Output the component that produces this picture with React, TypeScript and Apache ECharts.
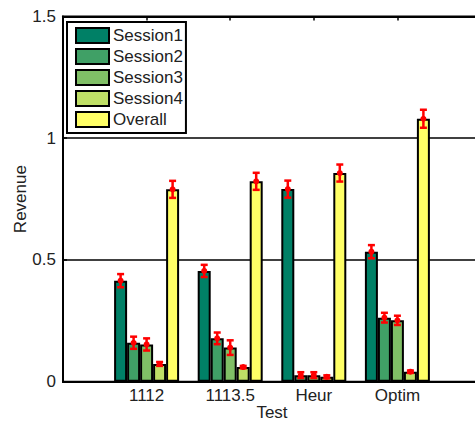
import React, { useEffect, useRef } from "react";
import * as echarts from "echarts";

const categories = ["", "1112", "1113.5", "Heur", "Optim", ""];
const seriesNames = ["Session1", "Session2", "Session3", "Session4", "Overall"];
const session1 = [null, 0.415, 0.455, 0.791, 0.534, null];
const session2 = [null, 0.16, 0.178, 0.027, 0.263, null];
const session3 = [null, 0.153, 0.14, 0.027, 0.252, null];
const session4 = [null, 0.073, 0.06, 0.02, 0.041, null];
const overall = [null, 0.79, 0.823, 0.857, 1.08, null];
const err1 = [null, 0.027, 0.025, 0.035, 0.027, null];
const err2 = [null, 0.025, 0.024, 0.012, 0.02, null];
const err3 = [null, 0.025, 0.03, 0.012, 0.019, null];
const err4 = [null, 0.008, 0.005, 0.006, 0.005, null];
const errO = [null, 0.035, 0.035, 0.035, 0.037, null];
const yTicks = [0, 0.5, 1, 1.5];
const colors = ["#008066", "#40a066", "#80bf66", "#bfdf66", "#ffff66"];

const BAR_W = 13;
const FONT = "Liberation Sans";
const TEXT = "#222";

export default function App() {
  const ref = useRef<HTMLDivElement>(null);
  useEffect(() => {
    if (!ref.current) return;
    const chart = echarts.init(ref.current, undefined, { renderer: "svg" });
    const values = [session1, session2, session3, session4, overall];
    const errs = [err1, err2, err3, err4, errO];
    const errData: any[] = [];
    values.forEach((arr, s) => {
      arr.forEach((v, i) => {
        if (v !== null && errs[s][i] !== null) errData.push([i, s, v, errs[s][i]]);
      });
    });
    const showTick = (idx: number) => idx > 0 && idx < categories.length - 1;
    const option: any = {
      animation: false,
      textStyle: { fontFamily: FONT },
      grid: {
        left: 63,
        right: -6,
        top: 16.5,
        bottom: 39.3,
        containLabel: false,
        outerBoundsMode: "none",
        show: true,
        borderColor: "#000",
        borderWidth: 2,
        backgroundColor: "transparent",
      },
      legend: {
        data: seriesNames,
        orient: "vertical",
        left: 67,
        top: 22,
        padding: [5, 3, 5, 8],
        itemGap: 4,
        itemWidth: 33,
        itemHeight: 15,
        icon: "rect",
        backgroundColor: "#fff",
        borderColor: "#000",
        borderWidth: 2,
        borderRadius: 0,
        itemStyle: { borderColor: "#000", borderWidth: 2 },
        textStyle: { fontSize: 17, lineHeight: 16, color: TEXT, fontFamily: FONT, padding: [0, 0, 0, -1] },
      },
      xAxis: [
        {
          type: "category",
          data: categories,
          boundaryGap: false,
          name: "Test",
          nameLocation: "middle",
          nameGap: 22,
          nameMoveOverlap: false,
          nameTextStyle: { fontSize: 17, color: TEXT, fontFamily: FONT },
          axisLine: { lineStyle: { color: "#000", width: 2 } },
          axisTick: { inside: true, length: 4, interval: (i: number) => showTick(i), lineStyle: { color: "#000", width: 1.5 } },
          axisLabel: { fontSize: 17, color: TEXT, fontFamily: FONT, margin: 5, interval: 0 },
          splitLine: { show: false },
        },
        {
          type: "category",
          data: categories,
          boundaryGap: false,
          position: "top",
          axisLine: { lineStyle: { color: "#000", width: 2 } },
          axisTick: { inside: true, length: 4, interval: (i: number) => showTick(i), lineStyle: { color: "#000", width: 1.5 } },
          axisLabel: { show: false },
          splitLine: { show: false },
        },
      ],
      yAxis: {
        type: "value",
        min: 0,
        max: 1.5,
        interval: 0.5,
        name: "Revenue",
        nameLocation: "middle",
        nameGap: 34,
        nameMoveOverlap: false,
        nameTextStyle: { fontSize: 17, color: TEXT, fontFamily: FONT },
        axisLine: { show: true, lineStyle: { color: "#000", width: 2 } },
        axisTick: { show: true, inside: true, length: 4, lineStyle: { color: "#000", width: 1.5 } },
        axisLabel: {
          fontSize: 17,
          color: TEXT,
          fontFamily: FONT,
          margin: 7,
          formatter: (v: number) => (yTicks.includes(v) ? String(v) : ""),
        },
        splitLine: { show: true, lineStyle: { color: "#000", width: 1.5 } },
      },
      series: [
        ...values.map((arr, s) => ({
          type: "bar",
          name: seriesNames[s],
          data: arr,
          barWidth: BAR_W,
          barGap: "0%",
          itemStyle: { color: colors[s], borderColor: "#000", borderWidth: 2 },
          emphasis: { disabled: true },
        })),
        {
          type: "custom",
          name: "err",
          data: errData,
          encode: { x: 0, y: 2 },
          z: 10,
          renderItem: (params: any, api: any) => {
            const i = api.value(0);
            const s = api.value(1);
            const v = api.value(2);
            const e = api.value(3);
            const off = (s - 2) * BAR_W;
            const c = api.coord([i, v]);
            const hi = api.coord([i, v + e]);
            const lo = api.coord([i, v - e]);
            const x = c[0] + off;
            const cap = 3.5;
            const st = { stroke: "#ff0000", lineWidth: 2.5 };
            return {
              type: "group",
              children: [
                { type: "line", shape: { x1: x, y1: hi[1], x2: x, y2: lo[1] }, style: st },
                { type: "line", shape: { x1: x - cap, y1: hi[1], x2: x + cap, y2: hi[1] }, style: st },
                { type: "line", shape: { x1: x - cap, y1: lo[1], x2: x + cap, y2: lo[1] }, style: st },
                { type: "circle", shape: { cx: x, cy: c[1], r: 3 }, style: { fill: "#ff0000" } },
              ],
            };
          },
        },
      ],
    };
    chart.setOption(option);
    return () => chart.dispose();
  }, []);
  return (
    <div
      ref={ref}
      style={{ position: "fixed", left: 0, top: 0, width: 475, height: 421, background: "#fff" }}
    />
  );
}
